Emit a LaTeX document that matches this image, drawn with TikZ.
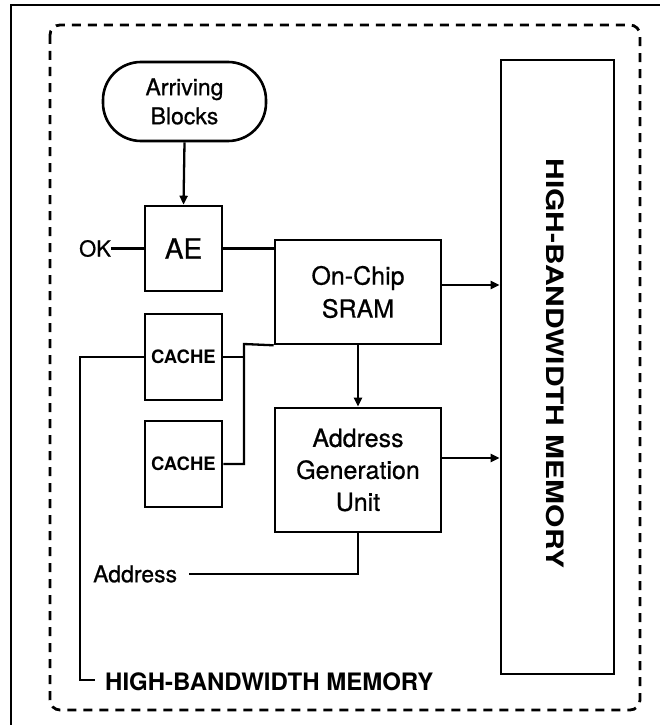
\documentclass[tikz,border=0pt]{standalone}
\usepackage{fontspec}
\setmainfont{TeX Gyre Heros}[FakeBold=0.7]
\newfontfamily\hbold{TeX Gyre Heros Bold}
\usetikzlibrary{arrows.meta}
\begin{document}
\begin{tikzpicture}[x=1pt,y=-1pt,
  box/.style={draw, line width=2.6pt, inner sep=0pt, align=center},
  conn/.style={line width=2.3pt},
  arr/.style={conn, -{Triangle[length=9pt,width=8pt]}},
  lbl/.style={inner sep=0pt}]
\useasboundingbox (0,0) rectangle (660,725);
% outer frame
\draw[line width=1.6pt] (11,726) -- (11,5) -- (661,5);
% dashed enclosure
\draw[line width=2.8pt, dash pattern=on 9pt off 7pt, rounded corners=10pt] (50,25) rectangle (640,710);
% nodes
\node[box, rounded corners=38pt, minimum width=163pt, minimum height=79pt, font=\fontsize{23}{29}\selectfont] (arr) at (184.5,101.5) {Arriving\\Blocks};
\node[box, minimum width=77pt, minimum height=85pt, font=\fontsize{28}{30}\selectfont] (ae) at (183.5,248.5) {AE};
\node[box, minimum width=166pt, minimum height=104pt, font=\fontsize{25}{33}\selectfont] (sram) at (358,292) {On-Chip\\SRAM};
\node[box, minimum width=77pt, minimum height=86pt, font=\hbold\fontsize{18.5}{20}\selectfont] (c1) at (183.5,357) {CACHE};
\node[box, minimum width=77pt, minimum height=86pt, font=\hbold\fontsize{18.5}{20}\selectfont] (c2) at (183.5,464) {CACHE};
\node[box, minimum width=166pt, minimum height=124pt, font=\fontsize{25}{32}\selectfont] (agu) at (358,470) {Address\\Generation\\Unit};
\node[box, minimum width=113pt, minimum height=614pt] (hbm) at (557.5,367) {};
\node[lbl, rotate=-90, font=\hbold\fontsize{24}{24}\selectfont] (hbmt) at (555,363.5) {\scalebox{1.25}[1]{HIGH-BANDWIDTH MEMORY}};
\node[lbl, font=\fontsize{22}{22}\selectfont] (ok) at (95,248.5) {OK};
\node[lbl, anchor=west, font=\fontsize{23}{23}\selectfont] (addr) at (93,574) {Address};
\node[lbl, anchor=base west, font=\hbold\fontsize{24}{24}\selectfont] (hbmb) at (105,690) {HIGH-BANDWIDTH MEMORY};
% junctions
\coordinate (j1) at (244,344);
\coordinate (j2) at (80,680);
\coordinate (j3) at (95,680);
% connectors
\draw[arr] (arr.south) -- (ae.north);
\draw[conn] (ok.east) -- (ae.west);
\draw[conn] (ae.east) -- (ae.east -| sram.west);
\draw[arr] ([yshift=7pt]sram.east) -- ([yshift=7pt]sram.east -| hbm.west);
\draw[arr] (sram.south) -- (agu.north);
\draw[arr] ([yshift=12pt]agu.east) -- ([yshift=12pt]agu.east -| hbm.west);
\draw[conn] (agu.south) |- ([xshift=12pt]addr.east);
\draw[conn] (sram.south west) -- (j1) |- (c2.east);
\draw[conn] (c1.east) -- (c1.east -| j1);
\draw[conn] (c1.west) -- (c1.west -| j2) -- (j2) -- (j3);
\end{tikzpicture}
\end{document}
